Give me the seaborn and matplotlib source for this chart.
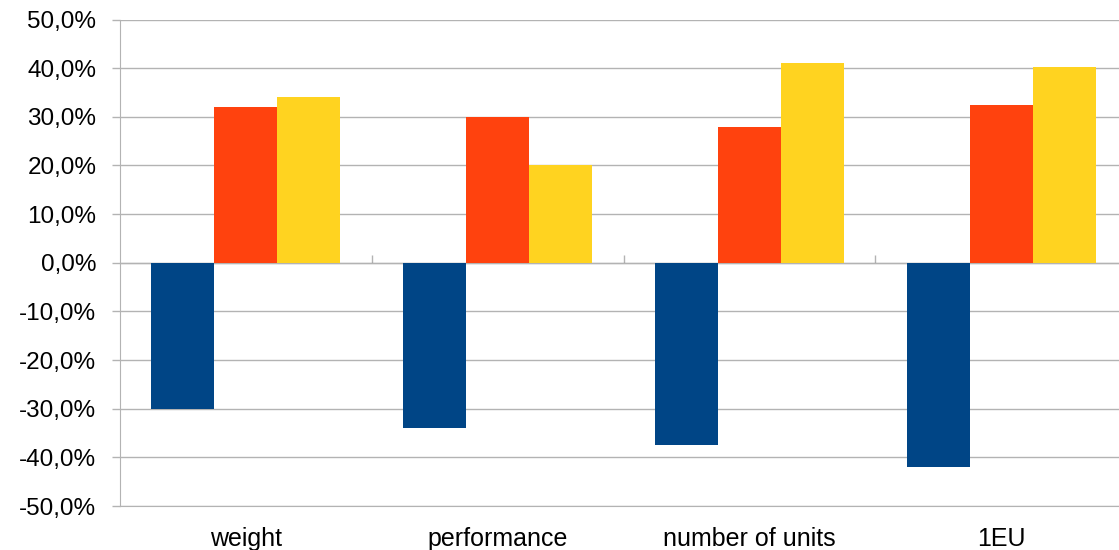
import matplotlib
matplotlib.use("Agg")
import matplotlib.pyplot as plt
from matplotlib.ticker import FuncFormatter, MultipleLocator, FixedLocator, NullFormatter
import pandas as pd
import seaborn as sns

# Data (percent change per metric)
categories = ["weight", "performance", "number of units", "1EU"]
series_names = ["Series A", "Series B", "Series C"]
series_a = [-30.0, -34.0, -37.4, -42.0]
series_b = [32.0, 30.0, 28.0, 32.4]
series_c = [34.0, 20.0, 41.0, 40.2]
colors = ["#004586", "#FF420E", "#FFD320"]

df = pd.DataFrame({
    "category": categories * 3,
    "series": [series_names[0]] * 4 + [series_names[1]] * 4 + [series_names[2]] * 4,
    "value": series_a + series_b + series_c,
})

sns.set_style("white")
plt.rcParams["font.family"] = ["Liberation Sans", "DejaVu Sans"]

fig = plt.figure(figsize=(11.19, 5.5), dpi=100)
ax = fig.add_axes([0.1072, 0.08, 0.9, 0.8845])

sns.barplot(data=df, x="category", y="value", hue="series", order=categories,
            hue_order=series_names, palette=colors, width=0.75, linewidth=0,
            saturation=1, legend=False, ax=ax, zorder=3)

grid_c = "#b3b3b3"
ax.set_ylim(-50, 50)
ax.set_xlim(-0.5, len(categories) - 0.5)
ax.yaxis.set_major_locator(MultipleLocator(10))
ax.yaxis.set_major_formatter(FuncFormatter(lambda v, _: f"{v:.1f}%".replace(".", ",")))
ax.yaxis.grid(True, color=grid_c, linewidth=1.0, zorder=0)
ax.set_axisbelow(True)
ax.set_xlabel("")
ax.set_ylabel("")

for side in ["top", "right"]:
    ax.spines[side].set_visible(False)
ax.spines["left"].set_color(grid_c)
ax.spines["bottom"].set_color(grid_c)

ax.tick_params(axis="y", which="major", left=True, length=6, width=1, color=grid_c,
               pad=11, labelsize=17.5, labelcolor="#000000")
ax.tick_params(axis="x", which="major", bottom=False, length=0, pad=15,
               labelsize=18, labelcolor="#000000")

# Category axis crossing at zero, with separator ticks between groups
zero_axis = ax.secondary_xaxis(0.5)
zero_axis.spines["bottom"].set_color(grid_c)
zero_axis.xaxis.set_major_locator(FixedLocator([i + 0.5 for i in range(len(categories))]))
zero_axis.xaxis.set_major_formatter(NullFormatter())
zero_axis.tick_params(axis="x", length=6, width=1, color=grid_c)

fig.savefig("out.png", dpi=100)
